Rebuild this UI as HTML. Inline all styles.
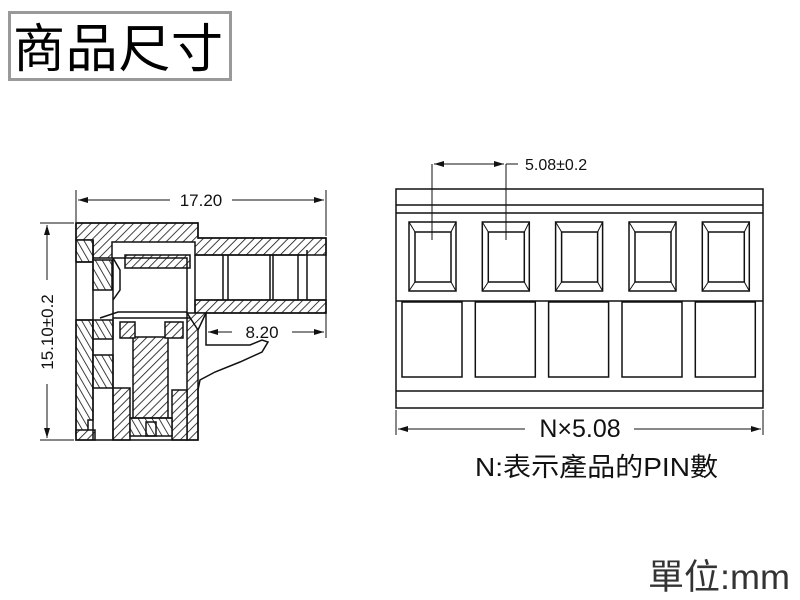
<!DOCTYPE html>
<html><head><meta charset="utf-8"><style>
html,body{margin:0;padding:0;background:#fff;width:800px;height:600px;overflow:hidden}
svg{display:block}
</style></head><body>
<svg width="800" height="600" viewBox="0 0 800 600" xmlns="http://www.w3.org/2000/svg">
<defs>
<pattern id="h" patternUnits="userSpaceOnUse" width="6" height="6" patternTransform="rotate(45)">
<rect width="6" height="6" fill="#fff"/><line x1="0" y1="0" x2="0" y2="6" stroke="#111" stroke-width="1.6"/>
</pattern>
<pattern id="h2" patternUnits="userSpaceOnUse" width="6" height="6" patternTransform="rotate(-30)">
<rect width="6" height="6" fill="#fff"/><line x1="0" y1="0" x2="0" y2="6" stroke="#111" stroke-width="1.6"/>
</pattern>
<marker id="a" markerWidth="10" markerHeight="6" refX="10" refY="3" orient="auto"><path d="M0,0 L10,3 L0,6 z" fill="#111"/></marker>
</defs>

<rect x="9.5" y="12.5" width="221" height="67" fill="#fff" stroke="#999" stroke-width="3"/>
<text x="13" y="67" font-family="'Liberation Sans','Noto Sans CJK TC',sans-serif" font-size="52" fill="#000" textLength="210">商品尺寸</text>

<g stroke="#111" stroke-width="1.5" fill="none">
<line x1="76" y1="190" x2="76" y2="222" stroke-width="1"/>
<line x1="326" y1="190" x2="326" y2="236" stroke-width="1"/>
<line x1="170" y1="200" x2="78" y2="200" stroke-width="1" marker-end="url(#a)"/>
<line x1="232" y1="200" x2="324" y2="200" stroke-width="1" marker-end="url(#a)"/>
<line x1="40" y1="223" x2="74" y2="223" stroke-width="1"/>
<line x1="40" y1="440" x2="74" y2="440" stroke-width="1"/>
<line x1="47" y1="280" x2="47" y2="225" stroke-width="1" marker-end="url(#a)"/>
<line x1="47" y1="384" x2="47" y2="438" stroke-width="1" marker-end="url(#a)"/>
<line x1="326" y1="313" x2="326" y2="338" stroke-width="1"/>
<line x1="232" y1="332" x2="208" y2="332" stroke-width="1" marker-end="url(#a)"/>
<line x1="292" y1="332" x2="324" y2="332" stroke-width="1" marker-end="url(#a)"/>

<path d="M76,223 H198 V238 H326 V255 H195 V242 H112 V258 H93 V240 H76 Z" fill="url(#h)"/>
<rect x="195" y="300" width="131" height="13" fill="url(#h)"/>
<path d="M76,240 H93 V262 H76 Z" fill="url(#h2)"/>
<path d="M93,260 H112 V290 H93 Z" fill="url(#h2)"/>
<path d="M76,320 H93 V420 H88 V435 H76 Z" fill="url(#h2)"/>
<rect x="93" y="320" width="20" height="19" fill="url(#h2)"/>
<rect x="93" y="355" width="20" height="33" fill="url(#h2)"/>
<path d="M187,318 H198 V440 H187 Z" fill="url(#h)"/>
<path d="M133,337 H168 V420 H133 Z" fill="url(#h)"/>
<path d="M113,388 H130 V440 H113 Z" fill="url(#h)"/>
<path d="M172,390 H187 V440 H172 Z" fill="url(#h)"/>
<path d="M120,322 H135 V338 H120 Z" fill="url(#h)"/>
<path d="M165,322 H183 V338 H165 Z" fill="url(#h)"/>
<path d="M125,255 H190 V268 H125 Z" fill="url(#h)"/>
<path d="M76,430 H95 V440 H76 Z" fill="url(#h)"/>
<path d="M130,418 H172 V436 H130 Z" fill="url(#h2)"/>
<path d="M187,313 L206,313 L198,330 Z" fill="url(#h)"/>

<path d="M76,223 H198 V238 H326 V313 H206 V345 H250 L262,340 L268,342 L262,352 L240,362 L215,372 L200,380 L198,390 V440 H76 Z"/>
<line x1="195" y1="255" x2="195" y2="313"/>
<line x1="195" y1="300" x2="326" y2="300"/>
<line x1="195" y1="255" x2="305" y2="255"/>
<line x1="223" y1="255" x2="223" y2="300"/><line x1="228" y1="255" x2="228" y2="300"/>
<line x1="270" y1="255" x2="270" y2="300"/><line x1="273" y1="255" x2="273" y2="300"/>
<line x1="298" y1="255" x2="298" y2="300"/><line x1="307" y1="250" x2="307" y2="300"/>
<path d="M113,258 H187 V318 H113 Z"/>
<path d="M113,258 L120,270 V290 L113,300"/>
<path d="M100,318 L118,312 H187"/>
<line x1="93" y1="240" x2="93" y2="440"/>
<line x1="113" y1="318" x2="113" y2="440"/>
<line x1="130" y1="418" x2="172" y2="418"/>
<line x1="76" y1="262" x2="93" y2="262"/>
<line x1="76" y1="320" x2="93" y2="320"/>
<rect x="146" y="422" width="10" height="14"/>

<rect x="396" y="189" width="367" height="219"/>
<line x1="396" y1="205" x2="763" y2="205"/>
<line x1="396" y1="213" x2="763" y2="213"/>
<line x1="396" y1="301" x2="763" y2="301"/>
<line x1="396" y1="391" x2="763" y2="391"/>
<g id="p">
<rect x="409" y="222" width="47" height="69"/>
<rect x="415" y="232" width="36" height="50"/>
<path d="M409,222 L415,232 M456,222 L451,232 M409,291 L415,282 M456,291 L451,282" stroke-width="1"/>
<rect x="402" y="302" width="60" height="75"/>
</g>
<use href="#p" x="73.3"/><use href="#p" x="146.6"/><use href="#p" x="220"/><use href="#p" x="293.3"/>
<line x1="432" y1="164" x2="432" y2="240" stroke-width="1"/>
<line x1="506" y1="164" x2="506" y2="240" stroke-width="1"/>
<line x1="470" y1="164" x2="434" y2="164" stroke-width="1" marker-end="url(#a)"/>
<line x1="470" y1="164" x2="504" y2="164" stroke-width="1" marker-end="url(#a)"/>
<line x1="506" y1="164" x2="518" y2="164" stroke-width="1"/>
<line x1="396" y1="410" x2="396" y2="435" stroke-width="1"/>
<line x1="763" y1="410" x2="763" y2="435" stroke-width="1"/>
<line x1="525" y1="429" x2="398" y2="429" stroke-width="1" marker-end="url(#a)"/>
<line x1="634" y1="429" x2="761" y2="429" stroke-width="1" marker-end="url(#a)"/>
</g>

<g font-family="'Liberation Sans','Noto Sans CJK TC',sans-serif" fill="#111">
<text x="201" y="206" font-size="17" text-anchor="middle">17.20</text>
<text x="262" y="338" font-size="17" text-anchor="middle">8.20</text>
<text transform="translate(53,332) rotate(-90)" font-size="17" text-anchor="middle">15.10±0.2</text>
<text x="525" y="170" font-size="16">5.08±0.2</text>
<text x="580" y="437" font-size="25" text-anchor="middle">N×5.08</text>
<text x="475" y="476" font-size="26" textLength="243" lengthAdjust="spacingAndGlyphs">N:表示產品的PIN數</text>
<text x="648" y="589" font-size="35" fill="#333" textLength="142" lengthAdjust="spacingAndGlyphs">單位:mm</text>
</g>
</svg>
</body></html>
